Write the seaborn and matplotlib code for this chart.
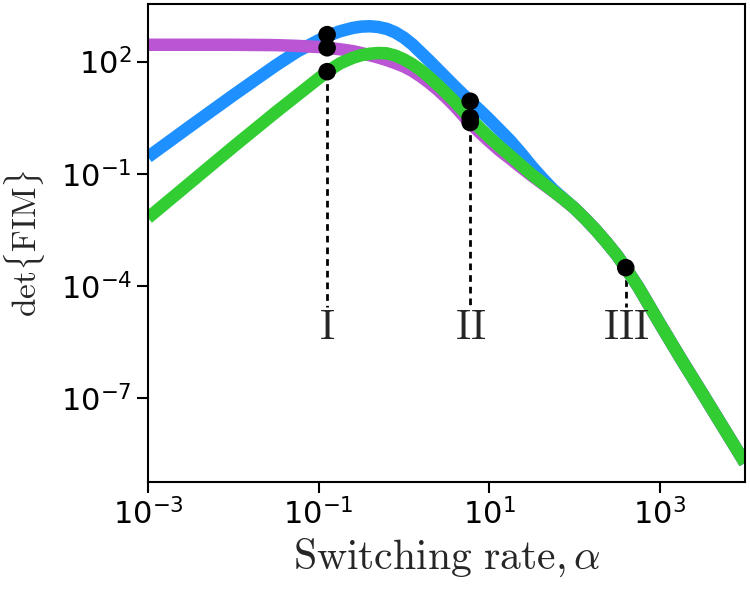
import numpy as np
import pandas as pd
import matplotlib
matplotlib.use("Agg")
import matplotlib.pyplot as plt
import seaborn as sns

# log10 of switching rate for the sampled curve points
log_alpha = [-3, -2.5, -2, -1.5, -1.25, -1, -0.9, -0.75, -0.6, -0.5, -0.4, -0.3,
             -0.2, -0.1, 0, 0.1, 0.2, 0.3, 0.4, 0.5, 0.6, 0.75, 0.9, 1, 1.125,
             1.25, 1.375, 1.5, 1.625, 1.75, 1.875, 2, 2.125, 2.25, 2.375, 2.5,
             2.6, 2.75, 3, 3.25, 3.5, 3.75, 4]
# log10 det{FIM} for each curve
log_blue = [-0.55, 0.28, 1.1, 1.9, 2.27, 2.57, 2.68, 2.81, 2.9, 2.935, 2.945, 2.925,
            2.875, 2.78, 2.64, 2.46, 2.24, 2.02, 1.79, 1.56, 1.33, 1.0, 0.68, 0.46, 0.17,
            -0.12, -0.45, -0.8, -1.12, -1.42, -1.67, -1.92, -2.2, -2.5, -2.83, -3.18,
            -3.51, -4.03, -5.0, -5.95, -6.87, -7.8, -8.73]
log_purple = [2.45, 2.45, 2.45, 2.44, 2.42, 2.39, 2.37, 2.33, 2.28, 2.23, 2.17, 2.11,
              2.04, 1.96, 1.87, 1.75, 1.6, 1.43, 1.24, 1.03, 0.8, 0.42, 0.08, -0.13, -0.38,
              -0.6, -0.83, -1.05, -1.26, -1.47, -1.69, -1.92, -2.2, -2.5, -2.83, -3.18,
              -3.51, -4.03, -5.0, -5.95, -6.87, -7.8, -8.73]
log_green = [-2.18, -1.23, -0.28, 0.65, 1.1, 1.55, 1.73, 1.95, 2.1, 2.17, 2.21, 2.23,
             2.22, 2.16, 2.06, 1.93, 1.77, 1.58, 1.37, 1.15, 0.92, 0.55, 0.2, -0.02, -0.28,
             -0.52, -0.77, -1.02, -1.24, -1.46, -1.68, -1.92, -2.2, -2.5, -2.83, -3.18,
             -3.51, -4.03, -5.0, -5.95, -6.87, -7.8, -8.73]

# marked points
pt_x = [0.126, 0.126, 0.126, 6.0, 6.0, 6.0, 400.0]
pt_logy = [2.72, 2.37, 1.73, 0.94, 0.50, 0.37, -3.51]
regime_labels = ["I", "II", "III"]
regime_x = [0.126, 6.0, 400.0]
regime_line_top = [1.73, 0.37, -3.51]
regime_line_bottom = -4.55
regime_label_y = -5.1

series = ["blue", "purple", "green"]
palette = {"blue": "#1E90FF", "purple": "#BA55D3", "green": "#32CD32"}

frames = []
for name, vals in zip(series, [log_blue, log_purple, log_green]):
    frames.append(pd.DataFrame({"alpha": 10.0 ** np.array(log_alpha),
                                "fim": 10.0 ** np.array(vals),
                                "curve": name}))
df = pd.concat(frames, ignore_index=True)
pts = pd.DataFrame({"alpha": pt_x, "fim": 10.0 ** np.array(pt_logy)})

sns.set_style("ticks")
plt.rcParams["axes.unicode_minus"] = False
fig = plt.figure(figsize=(7.5, 5.96), dpi=100)
ax = fig.add_axes([0.1973, 0.1913, 0.796, 0.802])

sns.lineplot(data=df, x="alpha", y="fim", hue="curve", hue_order=series,
             palette=palette, lw=9, legend=False, ax=ax, sort=False,
             solid_capstyle="butt", solid_joinstyle="round")
ax.set_xscale("log")
ax.set_yscale("log")

for xv, top in zip(regime_x, regime_line_top):
    ax.plot([xv, xv], [10.0 ** top, 10.0 ** regime_line_bottom], color="black",
            lw=2, linestyle=(0, (2.4, 1.8)), zorder=1)

sns.scatterplot(data=pts, x="alpha", y="fim", color="black", s=160,
                edgecolor="none", ax=ax, zorder=5)

for lab, xv in zip(regime_labels, regime_x):
    ax.text(xv, 10.0 ** regime_label_y, r"$\mathrm{%s}$" % lab, fontsize=30,
            ha="center", va="center", math_fontfamily="cm")

ax.set_xlim(1e-3, 1e4)
ax.set_ylim(10 ** -9.24, 10 ** 3.54)
ax.set_xticks([1e-3, 1e-1, 1e1, 1e3])
ax.set_yticks([1e2, 1e-1, 1e-4, 1e-7])
ax.minorticks_off()
ax.tick_params(axis="both", which="major", labelsize=22, length=8, width=1.5,
               color="black", labelcolor="black")
for sp in ax.spines.values():
    sp.set_linewidth(1.5)
    sp.set_color("black")

ax.set_xlabel(r"$\mathrm{Switching\ rate},\alpha$", fontsize=30,
              math_fontfamily="cm", labelpad=4)
ax.set_ylabel(r"$\mathrm{det}\{\mathrm{FIM}\}$", fontsize=24, math_fontfamily="cm",
              labelpad=10)

fig.savefig("out.png", dpi=100)
